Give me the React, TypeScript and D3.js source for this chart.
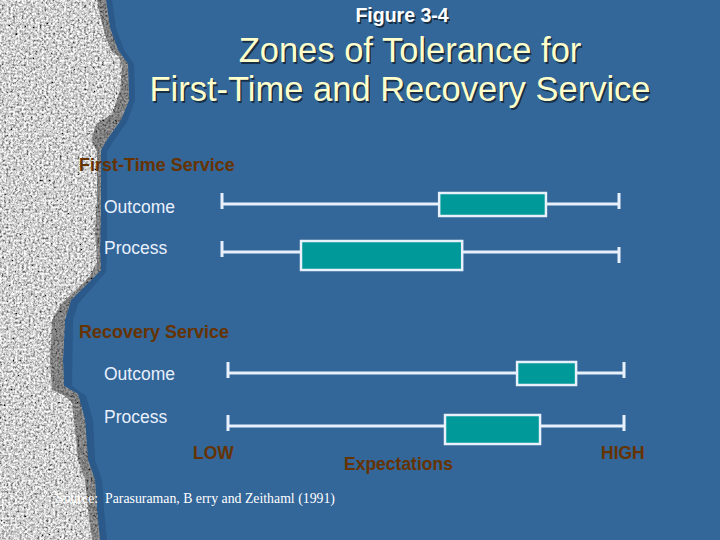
import { scaleLinear } from 'd3'

// expectation scale runs from LOW (0) to HIGH (100)
const groupNames = ['First-Time Service', 'Recovery Service']
const rowNames = ['Outcome', 'Process']
const firstTimeZones = [[54.7, 81.6], [19.9, 60.5]]
const recoveryZones = [[73.0, 87.9], [54.8, 78.8]]
const zones = [firstTimeZones, recoveryZones]

const W = 720
const H = 540
const BG = '#336699'
const LIGHT = '#E8F0FC'
const BROWN = '#663300'
const TEAL = '#009999'
const FONT = 'Liberation Sans, Arial, sans-serif'

// layout (pixels)
const groupRange = [[222, 619], [228, 624]]
const headerY = [171, 338]
const lineY = [[204, 252], [373, 426]]
const labelY = [[213, 254], [380, 423]]
const boxH = [23, 29]

const stone = 'M0,0 L97,0 L100,15 L106,38 L112,52 L119,57 L122,66 L120,90 L112,114 L96,124 L91,140 L97,152 L97,200 L95,230 L97,262 L90,276 L76,290 L61,304 L52,320 L50,360 L52,390 L63,395 L72,402 L75,430 L78,460 L85,480 L88,510 L92,540 L0,540 Z'
const stoneEdge = 'M0,0 L106,0 L110,28 L118,50 L128,64 L129,100 L121,120 L108,138 L101,150 L101,210 L100,250 L101,270 L86,285 L71,300 L65,320 L63,360 L64,386 L78,394 L85,420 L88,460 L95,480 L97,510 L100,540 L0,540 Z'
const stoneShadow = 'M0,0 L112,0 L116,28 L124,50 L134,64 L135,100 L127,122 L114,140 L107,152 L107,250 L106,272 L92,288 L78,304 L73,320 L72,386 L86,396 L93,420 L95,460 L102,480 L104,510 L107,540 L0,540 Z'

export default function App() {
  const scales = groupRange.map(r => scaleLinear().domain([0, 100]).range(r))

  const shadowText = (x, y, txt, size, fill, anchor = 'middle', weight = 'normal') => (
    <g fontFamily={FONT} fontSize={size} fontWeight={weight} textAnchor={anchor}>
      <text x={x + 1.5} y={y + 1.5} fill="#112233" opacity={0.8}>{txt}</text>
      <text x={x} y={y} fill={fill}>{txt}</text>
    </g>
  )

  return (
    <svg width={W} height={H} style={{ position: 'absolute', left: 0, top: 0 }}>
      <defs>
        <filter id="granite" x="0" y="0" width="100%" height="100%">
          <feTurbulence type="fractalNoise" baseFrequency="0.45" numOctaves="3" seed="7" result="noise" />
          <feColorMatrix in="noise" type="saturate" values="0" result="gray" />
          <feComponentTransfer in="gray" result="contrast">
            <feFuncR type="linear" slope="2.3" intercept="-0.52" />
            <feFuncG type="linear" slope="2.3" intercept="-0.52" />
            <feFuncB type="linear" slope="2.3" intercept="-0.52" />
            <feFuncA type="table" tableValues="1 1" />
          </feComponentTransfer>
          <feComposite in="contrast" in2="SourceGraphic" operator="in" />
        </filter>
      </defs>

      <rect width={W} height={H} fill={BG} />

      {/* stone border */}
      <path d={stoneShadow} fill="#1f4a78" opacity={0.45} />
      <path d={stoneEdge} fill="#888" filter="url(#granite)" />
      <path d={stoneEdge} fill="#000" opacity={0.38} />
      <path d={stone} fill="#aaa" filter="url(#granite)" />

      {/* titles */}
      {shadowText(402, 22, 'Figure 3-4', 19.5, '#FFFFFF', 'middle', 'bold')}
      {shadowText(410, 62, 'Zones of Tolerance for', 34.5, '#FFFFCC')}
      {shadowText(400, 101, 'First-Time and Recovery Service', 34.5, '#FFFFCC')}

      {groupNames.map((g, gi) => {
        const x = scales[gi]
        return (
          <g key={g}>
            <text x={79} y={headerY[gi]} fill={BROWN} fontFamily={FONT} fontSize={18} fontWeight="bold">{g}</text>
            {rowNames.map((r, ri) => {
              const y = lineY[gi][ri]
              const [lo, hi] = zones[gi][ri]
              const rightShift = gi === 0 && ri === 1 ? 6 : 0
              return (
                <g key={r}>
                  <text x={104} y={labelY[gi][ri]} fill={LIGHT} fontFamily={FONT} fontSize={17.5}>{r}</text>
                  <line x1={x(0)} x2={x(100)} y1={y} y2={y} stroke={LIGHT} strokeWidth={3} />
                  <line x1={x(0)} x2={x(0)} y1={y - 11} y2={y + 5} stroke={LIGHT} strokeWidth={3} />
                  <line x1={x(100)} x2={x(100)} y1={y - 11 + rightShift} y2={y + 5 + rightShift} stroke={LIGHT} strokeWidth={3} />
                  <rect x={x(lo)} y={y - 11} width={x(hi) - x(lo)} height={boxH[ri]} fill={TEAL} stroke={LIGHT} strokeWidth={2.5} />
                </g>
              )
            })}
          </g>
        )
      })}

      <g fill={BROWN} fontFamily={FONT} fontSize={17.5} fontWeight="bold">
        <text x={193} y={459}>LOW</text>
        <text x={344} y={470}>Expectations</text>
        <text x={601} y={459}>HIGH</text>
      </g>

      <text x={56} y={503} fill="#FFFFFF" fontFamily="Liberation Serif, Times New Roman, serif" fontSize={13.8}>
        Source:{'\u00a0\u00a0'}Parasuraman, B erry and Zeithaml (1991)
      </text>
    </svg>
  )
}
